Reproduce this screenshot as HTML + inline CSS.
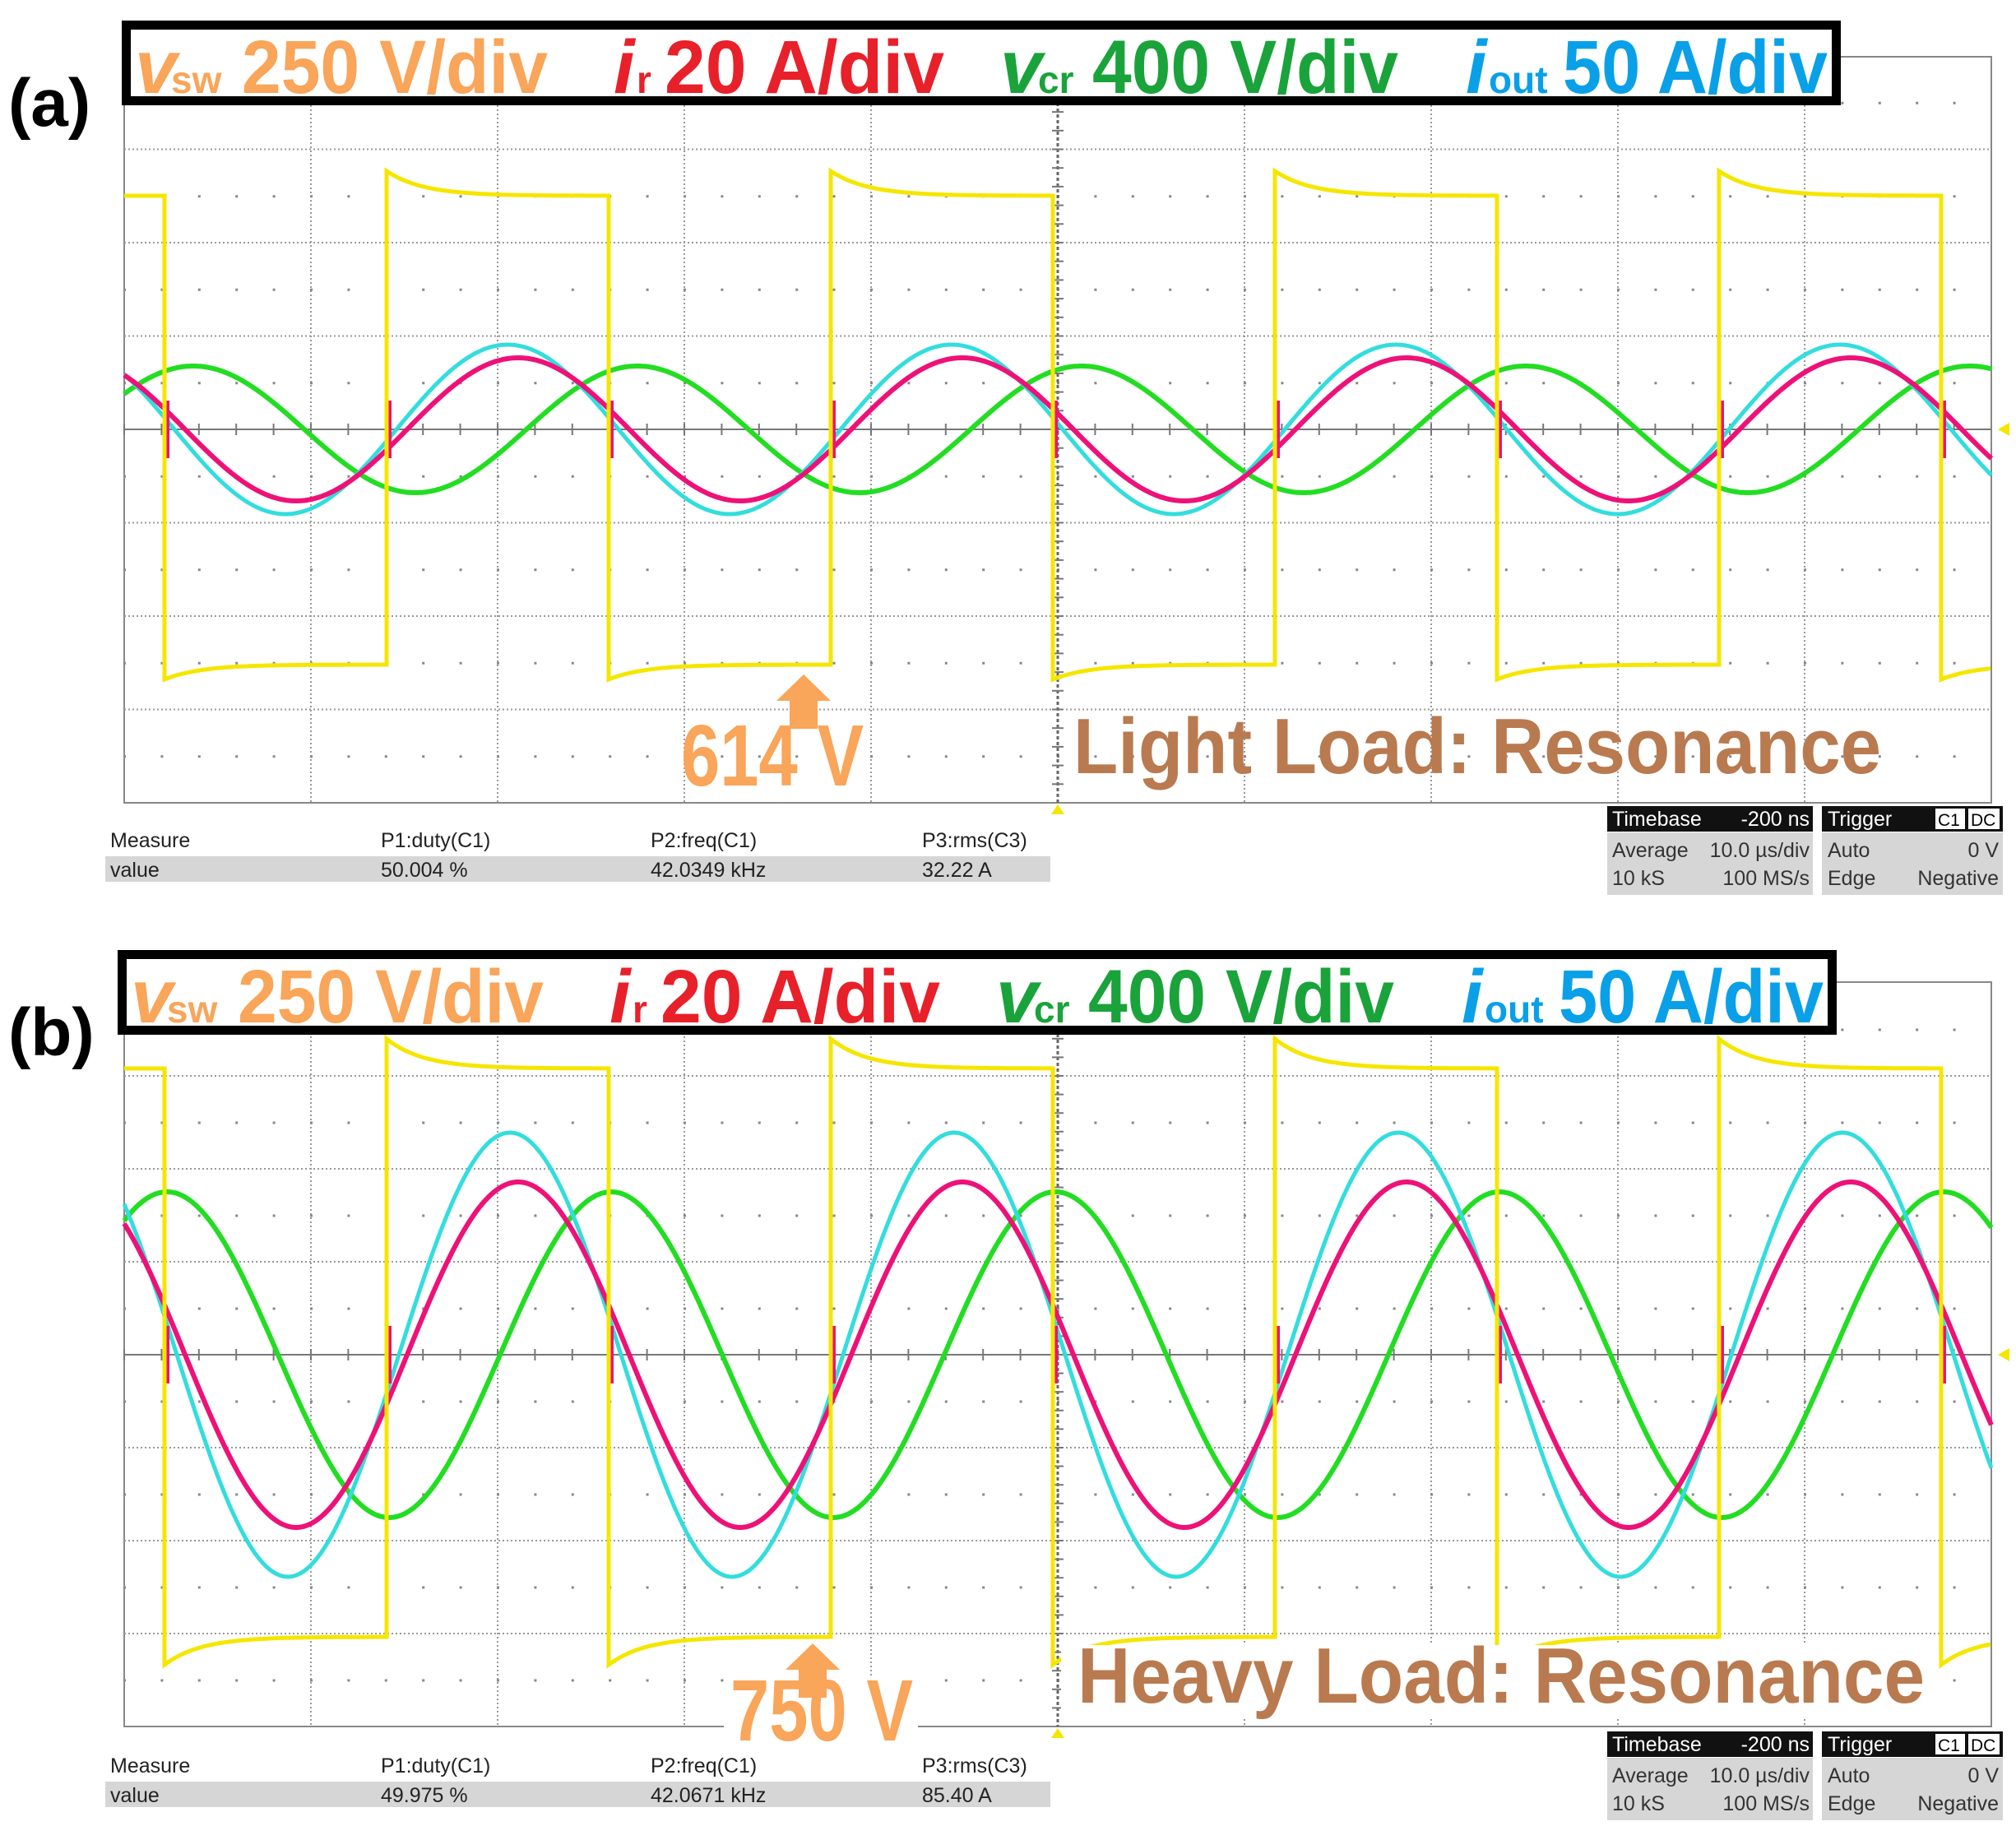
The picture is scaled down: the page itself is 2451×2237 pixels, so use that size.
<!DOCTYPE html>
<html><head><meta charset="utf-8"><style>
html,body{margin:0;padding:0;background:#fff;}
svg{display:block;}
text{font-family:"Liberation Sans",Arial,sans-serif;}
</style></head><body>
<svg id="s" width="2451" height="2237" viewBox="0 0 2451 2237" xmlns="http://www.w3.org/2000/svg">
<g id="g"></g>
</svg>
<script>
var NS="http://www.w3.org/2000/svg",G=document.getElementById('g');
function el(t,a,txt){var e=document.createElementNS(NS,t);for(var k in a)e.setAttribute(k,a[k]);if(txt!=null)e.textContent=txt;G.appendChild(e);return e;}
var L=151,R=2421,P=540;
function panel(o){
 var Z=o.zero,D=o.div,top=Z-4*D,bot=Z+4*D,dy=o.dy;
 // frame
 el('rect',{x:L,y:o.frameTop,width:R-L,height:bot-o.frameTop,fill:'none',stroke:'#888','stroke-width':2});
 // grid
 for(var i=1;i<10;i++){var x=L+i*(R-L)/10;if(i==5)continue;el('line',{x1:x,y1:top,x2:x,y2:bot,stroke:'#999','stroke-width':2,'stroke-dasharray':'2,3'});}
 for(var j=-3;j<=3;j++){if(j==0)continue;var y=Z+j*D;el('line',{x1:L,y1:y,x2:R,y2:y,stroke:'#999','stroke-width':2,'stroke-dasharray':'2,3'});}
 for(var j=-4;j<4;j++){var y=Z+(j+0.5)*D;for(var i=0;i<50;i++){var x=L+i*(R-L)/50;el('rect',{x:x-1,y:y-1,width:3,height:3,fill:'#888'});}}
 el('line',{x1:L,y1:Z,x2:R,y2:Z,stroke:'#777','stroke-width':2});
 for(var i=0;i<50;i++){var x=L+i*(R-L)/50;el('line',{x1:x,y1:Z-7,x2:x,y2:Z+7,stroke:'#777','stroke-width':2});}
 var cx=L+(R-L)/2;
 el('line',{x1:cx,y1:o.frameTop,x2:cx,y2:bot,stroke:'#666','stroke-width':3,'stroke-dasharray':'4,3'});
 for(var j=0;j<40;j++){var y=top+j*D/5;el('line',{x1:cx-7,y1:y,x2:cx+7,y2:y,stroke:'#777','stroke-width':2});}
 // waves
 function wave(f,col,w){var d='';for(var x=L;x<=R;x+=2){d+=(x==L?'M':'L')+x+','+f(x).toFixed(1);}el('path',{d:d,fill:'none',stroke:col,'stroke-width':w});}
 wave(function(x){return Z-o.gA*Math.cos(2*Math.PI*(x-o.gP)/P);},'#22dd22',6);
 wave(function(x){return Z-o.cA*Math.sin(2*Math.PI*(x-o.cX)/P);},'#33dddd',5);
 wave(function(x){return Z-o.rA*Math.sin(2*Math.PI*(x-o.rX)/P);},'#ee1177',6);
 // spikes on red
 for(var k=0;k<9;k++){var x=200+270*k;if(x>R)break;el('line',{x1:x+4,y1:Z-35,x2:x+4,y2:Z+35,stroke:'#ee1177','stroke-width':4});}
 // yellow
 var d='M'+L+','+o.hi;
 for(var k=0;k<9;k++){var x=200+270*k;if(x>R)break;var high=(k%2==1);var lev=high?o.hi:o.lo,sp=high?o.hiS:o.loS;
  d+='L'+x+','+(high?o.lo:o.hi)+'L'+x+','+sp;
  var end=Math.min(x+270,R);
  for(var t=x;t<=end;t+=4){d+='L'+t+','+(lev+(sp-lev)*Math.exp(-(t-x)/45)).toFixed(1);}
 }
 el('path',{d:d,fill:'none',stroke:'#f5e600','stroke-width':5});
 // triangles
 el('polygon',{points:(cx-8)+','+(bot+14)+' '+(cx+8)+','+(bot+14)+' '+cx+','+(bot+2),fill:'#f5e600'});
 el('polygon',{points:(R+22)+','+(Z-8)+' '+(R+22)+','+(Z+8)+' '+(R+8)+','+Z,fill:'#f5e600'});
 el('line',{x1:o.bx+o.bw,y1:o.frameTop,x2:R,y2:o.frameTop,stroke:'#888','stroke-width':2});
 // header box
 el('rect',{x:o.bx+5.5,y:o.by+5.5,width:o.bw-11,height:92,fill:'#fff',stroke:'#000','stroke-width':11});
 var b=o.by+88;
 el('text',{x:o.bx+16,y:b,'font-size':92,'font-weight':'bold','font-style':'italic',fill:'#f9a55a'},'v');
 el('text',{x:o.bx+60,y:b,'font-size':46,'font-weight':'bold',fill:'#f9a55a'},'sw');
 el('text',{x:o.bx+146,y:b,'font-size':92,'font-weight':'bold',fill:'#f9a55a',textLength:372,lengthAdjust:'spacingAndGlyphs'},'250 V/div');
 el('text',{x:o.bx+598,y:b,'font-size':92,'font-weight':'bold','font-style':'italic',fill:'#e8202a'},'i');
 el('text',{x:o.bx+626,y:b,'font-size':46,'font-weight':'bold',fill:'#e8202a'},'r');
 el('text',{x:o.bx+660,y:b,'font-size':92,'font-weight':'bold',fill:'#e8202a',textLength:340,lengthAdjust:'spacingAndGlyphs'},'20 A/div');
 el('text',{x:o.bx+1068,y:b,'font-size':92,'font-weight':'bold','font-style':'italic',fill:'#1aa33a'},'v');
 el('text',{x:o.bx+1114,y:b,'font-size':46,'font-weight':'bold',fill:'#1aa33a'},'cr');
 el('text',{x:o.bx+1180,y:b,'font-size':92,'font-weight':'bold',fill:'#1aa33a',textLength:372,lengthAdjust:'spacingAndGlyphs'},'400 V/div');
 el('text',{x:o.bx+1634,y:b,'font-size':92,'font-weight':'bold','font-style':'italic',fill:'#0aa0e8'},'i');
 el('text',{x:o.bx+1662,y:b,'font-size':46,'font-weight':'bold',fill:'#0aa0e8'},'out');
 el('text',{x:o.bx+1752,y:b,'font-size':92,'font-weight':'bold',fill:'#0aa0e8',textLength:322,lengthAdjust:'spacingAndGlyphs'},'50 A/div');
 // panel label
 el('text',{x:10,y:o.by+128,'font-size':82,'font-weight':'bold',fill:'#000'},o.lab);
 // annotations
 if(o.white){el('rect',{x:o.vx-8,y:o.vb-78,width:236,height:94,fill:'#fff'});el('rect',{x:1290,y:o.tb-70,width:1050,height:90,fill:'#fff'});}
 el('polygon',{points:(o.ax-33)+','+(o.ay+32)+' '+o.ax+','+o.ay+' '+(o.ax+33)+','+(o.ay+32)+' '+(o.ax+17)+','+(o.ay+32)+' '+(o.ax+17)+','+(o.ay+66)+' '+(o.ax-17)+','+(o.ay+66)+' '+(o.ax-17)+','+(o.ay+32),fill:'#f9a55a'});
 el('text',{x:o.vx,y:o.vb,'font-size':106,'font-weight':'bold',fill:'#f9a55a',textLength:222,lengthAdjust:'spacingAndGlyphs'},o.vt);
 el('text',{x:o.tx,y:o.tb,'font-size':96,'font-weight':'bold',fill:'#b97a50',textLength:o.tw,lengthAdjust:'spacingAndGlyphs'},o.tt);
 // measure
 var my=dy;
 el('rect',{x:128,y:1041+my,width:1149,height:31,fill:'#d6d6d6'});
 var cols=[134,463,791,1121],h=['Measure','P1:duty(C1)','P2:freq(C1)','P3:rms(C3)'];
 for(var i=0;i<4;i++){el('text',{x:cols[i],y:1030+my,'font-size':25,fill:'#222'},h[i]);el('text',{x:cols[i],y:1066+my,'font-size':25,fill:'#222'},o.m[i]);}
 // timebase
 el('rect',{x:1954,y:980+my,width:250,height:31,fill:'#111'});
 el('rect',{x:1954,y:1012+my,width:250,height:76,fill:'#d6d6d6'});
 el('text',{x:1960,y:1004+my,'font-size':25,fill:'#fff'},'Timebase');
 el('text',{x:2200,y:1004+my,'font-size':25,fill:'#fff','text-anchor':'end'},'-200 ns');
 el('text',{x:1960,y:1042+my,'font-size':25,fill:'#333'},'Average');
 el('text',{x:2200,y:1042+my,'font-size':25,fill:'#333','text-anchor':'end'},'10.0 \u00b5s/div');
 el('text',{x:1960,y:1076+my,'font-size':25,fill:'#333'},'10 kS');
 el('text',{x:2200,y:1076+my,'font-size':25,fill:'#333','text-anchor':'end'},'100 MS/s');
 el('rect',{x:2215,y:980+my,width:220,height:31,fill:'#111'});
 el('rect',{x:2215,y:1012+my,width:220,height:76,fill:'#d6d6d6'});
 el('text',{x:2222,y:1004+my,'font-size':25,fill:'#fff'},'Trigger');
 el('rect',{x:2353,y:983+my,width:36,height:25,fill:'#fff'});el('rect',{x:2393,y:983+my,width:38,height:25,fill:'#fff'});
 el('text',{x:2356,y:1004+my,'font-size':21,fill:'#000'},'C1');el('text',{x:2396,y:1004+my,'font-size':21,fill:'#000'},'DC');
 el('text',{x:2222,y:1042+my,'font-size':25,fill:'#333'},'Auto');
 el('text',{x:2430,y:1042+my,'font-size':25,fill:'#333','text-anchor':'end'},'0 V');
 el('text',{x:2222,y:1076+my,'font-size':25,fill:'#333'},'Edge');
 el('text',{x:2430,y:1076+my,'font-size':25,fill:'#333','text-anchor':'end'},'Negative');
}
panel({zero:522,div:113.5,frameTop:69,dy:0,gA:77,gP:235,cA:103,cX:482,rA:87,rX:495,hi:238,hiS:208,lo:808,loS:826,
 bx:148,by:25,bw:2090,lab:'(a)',ax:977,ay:820,vx:828,vb:955,vt:'614 V',tx:1305,tb:940,tw:982,tt:'Light Load: Resonance',white:false,
 m:['value','50.004 %','42.0349 kHz','32.22 A']});
panel({zero:1647,div:113,frameTop:1194,dy:1125,gA:198,gP:203,cA:270,cX:485,rA:210,rX:495,hi:1299,hiS:1263,lo:1990,loS:2024,
 bx:143,by:1155,bw:2090,lab:'(b)',ax:988,ay:1998,vx:888,vb:2116,vt:'750 V',tx:1310,tb:2070,tw:1030,tt:'Heavy Load: Resonance',white:true,
 m:['value','49.975 %','42.0671 kHz','85.40 A']});
</script>
</body></html>
